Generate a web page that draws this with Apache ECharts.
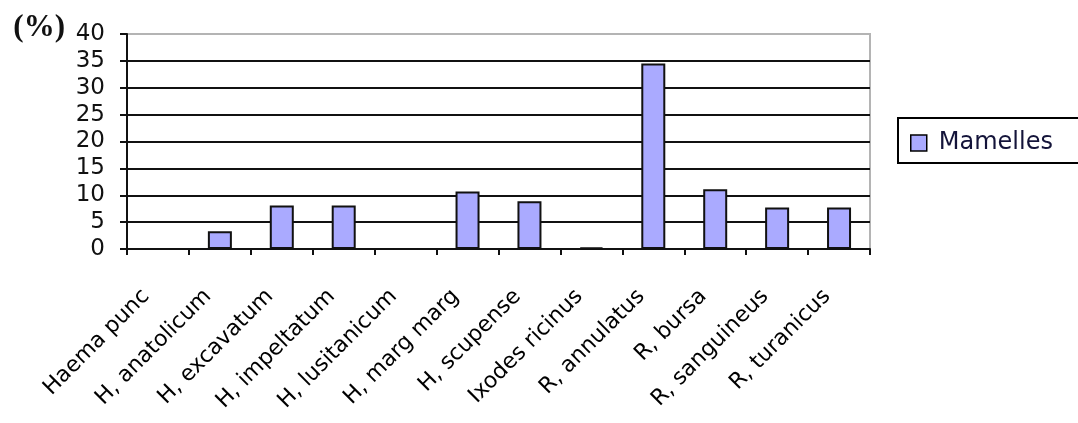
<!DOCTYPE html>
<html>
<head>
<meta charset="utf-8">
<script src="https://cdn.jsdelivr.net/npm/echarts@6/dist/echarts.min.js"></script>
<style>
  html, body { margin: 0; padding: 0; background: #fff; }
  #chart { width: 1078px; height: 423px; }
</style>
</head>
<body>
<div id="chart"></div>
<script>
// Tick species and share of infestation on the udders (%)
const species = [
  'Haema punc', 'H, anatolicum', 'H, excavatum', 'H, impeltatum',
  'H, lusitanicum', 'H, marg marg', 'H, scupense', 'Ixodes ricinus',
  'R, annulatus', 'R, bursa', 'R, sanguineus', 'R, turanicus'
];
const mamelles = [0, 3.3, 8.1, 8.1, 0, 10.7, 8.9, 0.3, 34.5, 11.1, 7.7, 7.7];
const seriesName = 'Mamelles';
const yTicks = { min: 0, max: 40, interval: 5 };

const sans = 'DejaVu Sans';
const barColor = '#aaaaff';

const chart = echarts.init(document.getElementById('chart'));
chart.setOption({
  backgroundColor: '#fff',
  animation: false,
  grid: {
    left: 127, right: 208, top: 34, bottom: 174,
    show: true, borderColor: '#b4b4b4', borderWidth: 2,
    containLabel: false, outerBoundsMode: 'none'
  },
  legend: {
    left: 898, top: 118,
    orient: 'vertical',
    icon: 'rect',
    itemWidth: 16, itemHeight: 16,
    padding: [13, 60, 8, 12],
    borderColor: '#000', borderWidth: 2,
    itemStyle: { color: barColor, borderColor: '#000', borderWidth: 1.5 },
    textStyle: { fontFamily: sans, fontSize: 24, color: '#14143a', padding: [0, 0, 0, 7] },
    data: [seriesName]
  },
  xAxis: {
    type: 'category',
    data: species,
    boundaryGap: true,
    axisLine: { lineStyle: { color: '#111', width: 2 } },
    axisTick: { show: true, alignWithLabel: false, inside: false, length: 6, lineStyle: { color: '#111', width: 2 } },
    axisLabel: {
      interval: 0, rotate: 45, margin: 32,
      padding: [0, 17, 0, 0],
      fontFamily: sans, fontSize: 22, color: '#000'
    },
    splitLine: { show: false }
  },
  yAxis: {
    type: 'value',
    min: yTicks.min, max: yTicks.max, interval: yTicks.interval,
    name: '(%)',
    nameLocation: 'end',
    nameGap: 6,
    nameTextStyle: {
      fontFamily: 'Liberation Serif', fontWeight: 'bold', fontSize: 31,
      color: '#111', align: 'right', verticalAlign: 'middle',
      padding: [0, 62, 0, 0]
    },
    axisLine: { show: true, lineStyle: { color: '#111', width: 2 } },
    axisTick: { show: true, inside: false, length: 7, lineStyle: { color: '#111', width: 2 } },
    axisLabel: { margin: 22, fontFamily: sans, fontSize: 23, color: '#111' },
    splitLine: {
      show: true,
      lineStyle: {
        color: ['#111', '#111', '#111', '#111', '#111', '#111', '#111', '#111', '#b4b4b4'],
        width: 2
      }
    }
  },
  series: [{
    name: seriesName,
    type: 'bar',
    data: mamelles,
    barWidth: 24,
    itemStyle: { color: barColor, borderColor: '#111', borderWidth: 2 }
  }]
});
</script>
</body>
</html>
